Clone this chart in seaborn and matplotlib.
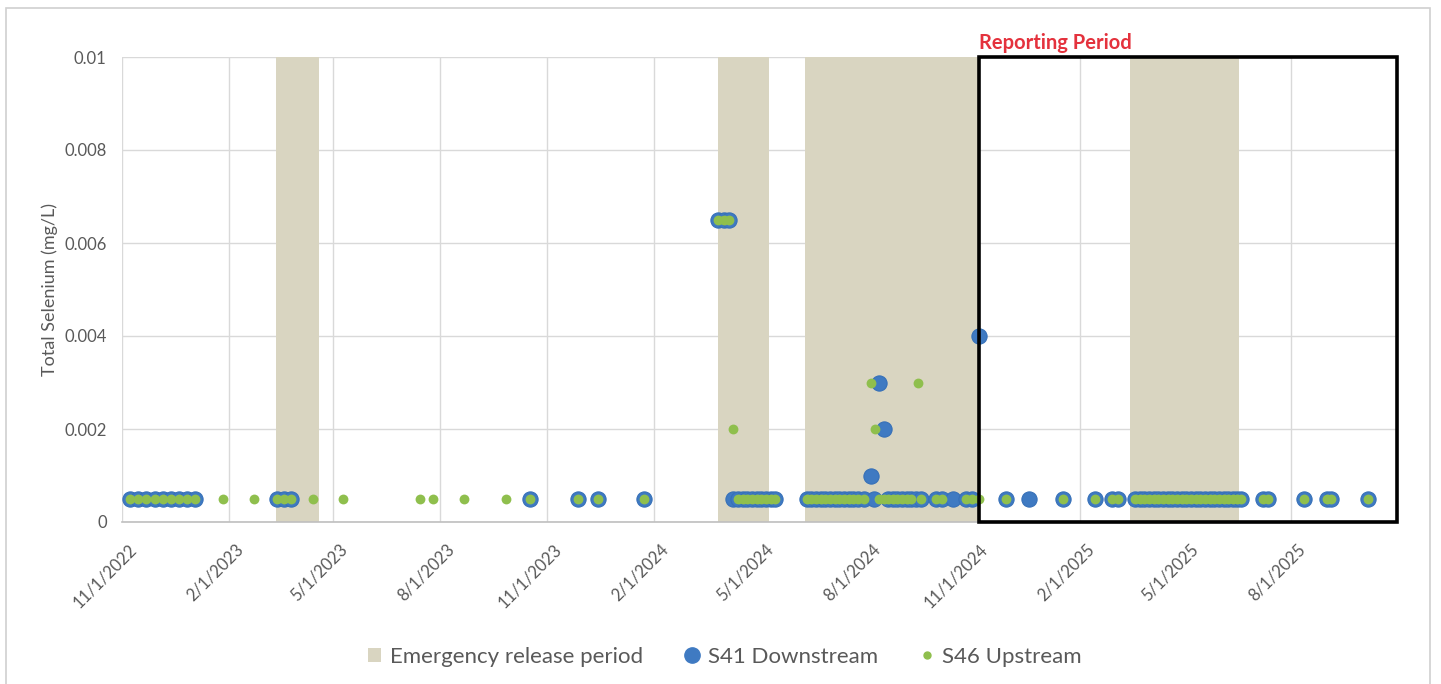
# Total selenium at S41 / S46 with emergency release periods
import pandas as pd
import matplotlib
matplotlib.use("Agg")
import matplotlib.pyplot as plt
import matplotlib.dates as mdates
import matplotlib.transforms as mtransforms
from matplotlib.patches import Patch, Rectangle
from matplotlib.lines import Line2D
from matplotlib.ticker import FuncFormatter, MultipleLocator
import seaborn as sns

# --- data ---
s41_dates = [
    "2022-11-08", "2022-11-15", "2022-11-22", "2022-11-29", "2022-12-06", "2022-12-13", "2022-12-20", "2022-12-27", "2023-01-03",
    "2023-03-14", "2023-03-20", "2023-03-26",
    "2023-10-17", "2023-11-28", "2023-12-15", "2024-01-23",
    "2024-03-27", "2024-04-01", "2024-04-05",
    "2024-04-09", "2024-04-13", "2024-04-17", "2024-04-21", "2024-04-25", "2024-04-29", "2024-05-03", "2024-05-07", "2024-05-11", "2024-05-15",
    "2024-06-11", "2024-06-15", "2024-06-19", "2024-06-23", "2024-06-27", "2024-07-01", "2024-07-05", "2024-07-09", "2024-07-13", "2024-07-17", "2024-07-21", "2024-07-25", "2024-07-30",
    "2024-08-05", "2024-08-08", "2024-08-12", "2024-08-16",
    "2024-08-20", "2024-08-24", "2024-08-28", "2024-09-01", "2024-09-05", "2024-09-09", "2024-09-13", "2024-09-17",
    "2024-09-30", "2024-10-05", "2024-10-15", "2024-10-26", "2024-10-31",
    "2024-11-06",
    "2024-11-29", "2024-12-19", "2025-01-17", "2025-02-14", "2025-02-28", "2025-03-05",
    "2025-03-20", "2025-03-24", "2025-03-28", "2025-04-01", "2025-04-05", "2025-04-09", "2025-04-13", "2025-04-17", "2025-04-21", "2025-04-25", "2025-04-29", "2025-05-03",
    "2025-05-07", "2025-05-11", "2025-05-15", "2025-05-19", "2025-05-23", "2025-05-27", "2025-05-31", "2025-06-04", "2025-06-08", "2025-06-12", "2025-06-16", "2025-06-19",
    "2025-07-08", "2025-07-12", "2025-08-12", "2025-09-01", "2025-09-04", "2025-10-06",
]
s41_values = [
    0.0005, 0.0005, 0.0005, 0.0005, 0.0005, 0.0005, 0.0005, 0.0005, 0.0005,
    0.0005, 0.0005, 0.0005,
    0.0005, 0.0005, 0.0005, 0.0005,
    0.0065, 0.0065, 0.0065,
    0.0005, 0.0005, 0.0005, 0.0005, 0.0005, 0.0005, 0.0005, 0.0005, 0.0005, 0.0005,
    0.0005, 0.0005, 0.0005, 0.0005, 0.0005, 0.0005, 0.0005, 0.0005, 0.0005, 0.0005, 0.0005, 0.0005, 0.0005,
    0.001, 0.0005, 0.003, 0.002,
    0.0005, 0.0005, 0.0005, 0.0005, 0.0005, 0.0005, 0.0005, 0.0005,
    0.0005, 0.0005, 0.0005, 0.0005, 0.0005,
    0.004,
    0.0005, 0.0005, 0.0005, 0.0005, 0.0005, 0.0005,
    0.0005, 0.0005, 0.0005, 0.0005, 0.0005, 0.0005, 0.0005, 0.0005, 0.0005, 0.0005, 0.0005, 0.0005,
    0.0005, 0.0005, 0.0005, 0.0005, 0.0005, 0.0005, 0.0005, 0.0005, 0.0005, 0.0005, 0.0005, 0.0005,
    0.0005, 0.0005, 0.0005, 0.0005, 0.0005, 0.0005,
]

s46_dates = [
    "2022-11-08", "2022-11-15", "2022-11-22", "2022-11-29", "2022-12-06", "2022-12-13", "2022-12-20", "2022-12-27", "2023-01-03",
    "2023-01-27", "2023-02-22",
    "2023-03-14", "2023-03-20", "2023-03-26",
    "2023-04-14", "2023-05-10", "2023-07-15", "2023-07-26", "2023-08-22", "2023-09-27",
    "2023-10-17", "2023-11-28", "2023-12-15", "2024-01-23",
    "2024-03-27", "2024-04-01", "2024-04-05",
    "2024-04-09", "2024-04-13", "2024-04-17", "2024-04-21", "2024-04-25", "2024-04-29", "2024-05-03", "2024-05-07", "2024-05-11", "2024-05-15",
    "2024-06-11", "2024-06-15", "2024-06-19", "2024-06-23", "2024-06-27", "2024-07-01", "2024-07-05", "2024-07-09", "2024-07-13", "2024-07-17", "2024-07-21", "2024-07-25", "2024-07-30",
    "2024-08-05", "2024-08-09",
    "2024-08-12", "2024-08-16", "2024-08-20", "2024-08-24", "2024-08-28", "2024-09-01", "2024-09-05", "2024-09-09",
    "2024-09-15", "2024-09-17",
    "2024-09-30", "2024-10-05", "2024-10-26", "2024-10-31", "2024-11-06",
    "2024-11-29", "2025-01-17", "2025-02-14", "2025-02-28", "2025-03-05",
    "2025-03-20", "2025-03-24", "2025-03-28", "2025-04-01", "2025-04-05", "2025-04-09", "2025-04-13", "2025-04-17", "2025-04-21", "2025-04-25", "2025-04-29", "2025-05-03",
    "2025-05-07", "2025-05-11", "2025-05-15", "2025-05-19", "2025-05-23", "2025-05-27", "2025-05-31", "2025-06-04", "2025-06-08", "2025-06-12", "2025-06-16", "2025-06-19",
    "2025-07-08", "2025-07-12", "2025-08-12", "2025-09-01", "2025-09-04", "2025-10-06",
]
s46_values = [
    0.0005, 0.0005, 0.0005, 0.0005, 0.0005, 0.0005, 0.0005, 0.0005, 0.0005,
    0.0005, 0.0005,
    0.0005, 0.0005, 0.0005,
    0.0005, 0.0005, 0.0005, 0.0005, 0.0005, 0.0005,
    0.0005, 0.0005, 0.0005, 0.0005,
    0.0065, 0.0065, 0.0065,
    0.002, 0.0005, 0.0005, 0.0005, 0.0005, 0.0005, 0.0005, 0.0005, 0.0005, 0.0005,
    0.0005, 0.0005, 0.0005, 0.0005, 0.0005, 0.0005, 0.0005, 0.0005, 0.0005, 0.0005, 0.0005, 0.0005, 0.0005,
    0.003, 0.002,
    0.0005, 0.0005, 0.0005, 0.0005, 0.0005, 0.0005, 0.0005, 0.0005,
    0.003, 0.0005,
    0.0005, 0.0005, 0.0005, 0.0005, 0.0005,
    0.0005, 0.0005, 0.0005, 0.0005, 0.0005,
    0.0005, 0.0005, 0.0005, 0.0005, 0.0005, 0.0005, 0.0005, 0.0005, 0.0005, 0.0005, 0.0005, 0.0005,
    0.0005, 0.0005, 0.0005, 0.0005, 0.0005, 0.0005, 0.0005, 0.0005, 0.0005, 0.0005, 0.0005, 0.0005,
    0.0005, 0.0005, 0.0005, 0.0005, 0.0005, 0.0005,
]

release_start = ["2023-03-13", "2024-03-27", "2024-06-10", "2025-03-16"]
release_end = ["2023-04-19", "2024-05-10", "2024-11-06", "2025-06-17"]

report_start = "2024-11-06"
axis_start = "2022-11-01"
axis_end = "2025-10-31"

# colours
BEIGE = "#D9D5C1"
BLUE = "#3F7AC2"
GREEN = "#8FBF4D"
GREY_TXT = "#595959"

s41 = pd.DataFrame({"date": pd.to_datetime(s41_dates), "value": s41_values})
s46 = pd.DataFrame({"date": pd.to_datetime(s46_dates), "value": s46_values})

sns.set_style("white")
plt.rcParams["font.family"] = ["Lato", "DejaVu Sans"]

fig = plt.figure(figsize=(14.41, 6.84), dpi=100)
ax = fig.add_axes([122 / 1441, 1 - 522 / 684, 1275 / 1441, 465 / 684])

# emergency release shading
for a, b in zip(release_start, release_end):
    ax.axvspan(pd.Timestamp(a), pd.Timestamp(b), color=BEIGE, lw=0, zorder=1)

sns.scatterplot(data=s41, x="date", y="value", ax=ax, color=BLUE, s=120,
                edgecolor="#3670B8", linewidth=0.8, zorder=3)
sns.scatterplot(data=s46, x="date", y="value", ax=ax, color=GREEN, s=50,
                linewidth=0, zorder=4)

ax.set_xlim(pd.Timestamp(axis_start), pd.Timestamp(axis_end))
ax.set_ylim(0, 0.01)

# reporting period box
x0 = mdates.date2num(pd.Timestamp(report_start))
x1 = mdates.date2num(pd.Timestamp(axis_end))
ax.add_patch(Rectangle((x0, 0), x1 - x0, 0.01, fill=False, edgecolor="black",
                       lw=2.6, zorder=6, clip_on=False))
ax.annotate("Reporting Period", xy=(x0, 0.01), xytext=(0, 3), textcoords="offset points",
            ha="left", va="bottom", color="#E4323D", fontweight="bold", fontsize=14.5)

# axes styling
ax.xaxis.set_major_locator(mdates.MonthLocator(bymonth=[2, 5, 8, 11]))
ax.xaxis.set_major_formatter(FuncFormatter(
    lambda v, p: f"{mdates.num2date(v).month}/{mdates.num2date(v).day}/{mdates.num2date(v).year}"))
ax.yaxis.set_major_locator(MultipleLocator(0.002))
ax.yaxis.set_major_formatter(FuncFormatter(lambda v, p: f"{v:g}"))

ax.grid(True, color="#D9D9D9", lw=1)
ax.set_axisbelow(True)
for side in ["top", "right", "left"]:
    ax.spines[side].set_visible(False)
ax.spines["bottom"].set_color("#BFBFBF")
ax.spines["bottom"].set_linewidth(1.2)

ax.tick_params(axis="both", length=0, labelcolor=GREY_TXT, labelsize=12)
ax.tick_params(axis="y", pad=11)
ax.tick_params(axis="x", pad=14)
plt.setp(ax.get_xticklabels(), rotation=45, ha="right", va="top", rotation_mode="anchor")
shift = mtransforms.ScaledTranslation(6 / 100, 0, fig.dpi_scale_trans)
for lbl in ax.get_xticklabels():
    lbl.set_transform(lbl.get_transform() + shift)

ax.set_xlabel("")
ax.set_ylabel("Total Selenium (mg/L)", fontsize=13, color=GREY_TXT)
ax.yaxis.set_label_coords(-0.050, 0.50)

# legend
handles = [
    Patch(facecolor=BEIGE, edgecolor="none"),
    Line2D([], [], marker="o", ls="", color=BLUE, markersize=11),
    Line2D([], [], marker="o", ls="", color=GREEN, markersize=5),
]
labels = ["Emergency release period", "S41 Downstream", "S46 Upstream"]
fig.legend(handles, labels, loc="center", bbox_to_anchor=(0.503, 0.04), ncol=3,
           frameon=False, fontsize=16, labelcolor=GREY_TXT, handlelength=0.6,
           handleheight=0.6, handletextpad=0.4, columnspacing=1.9)

# outer chart border
fig.patches.append(Rectangle((6 / 1441, -0.01), 1424 / 1441, 1 - 8 / 684 + 0.01,
                             transform=fig.transFigure, fill=False,
                             edgecolor="#D0D0D0", lw=1.2))

fig.savefig("out.png", dpi=100)
